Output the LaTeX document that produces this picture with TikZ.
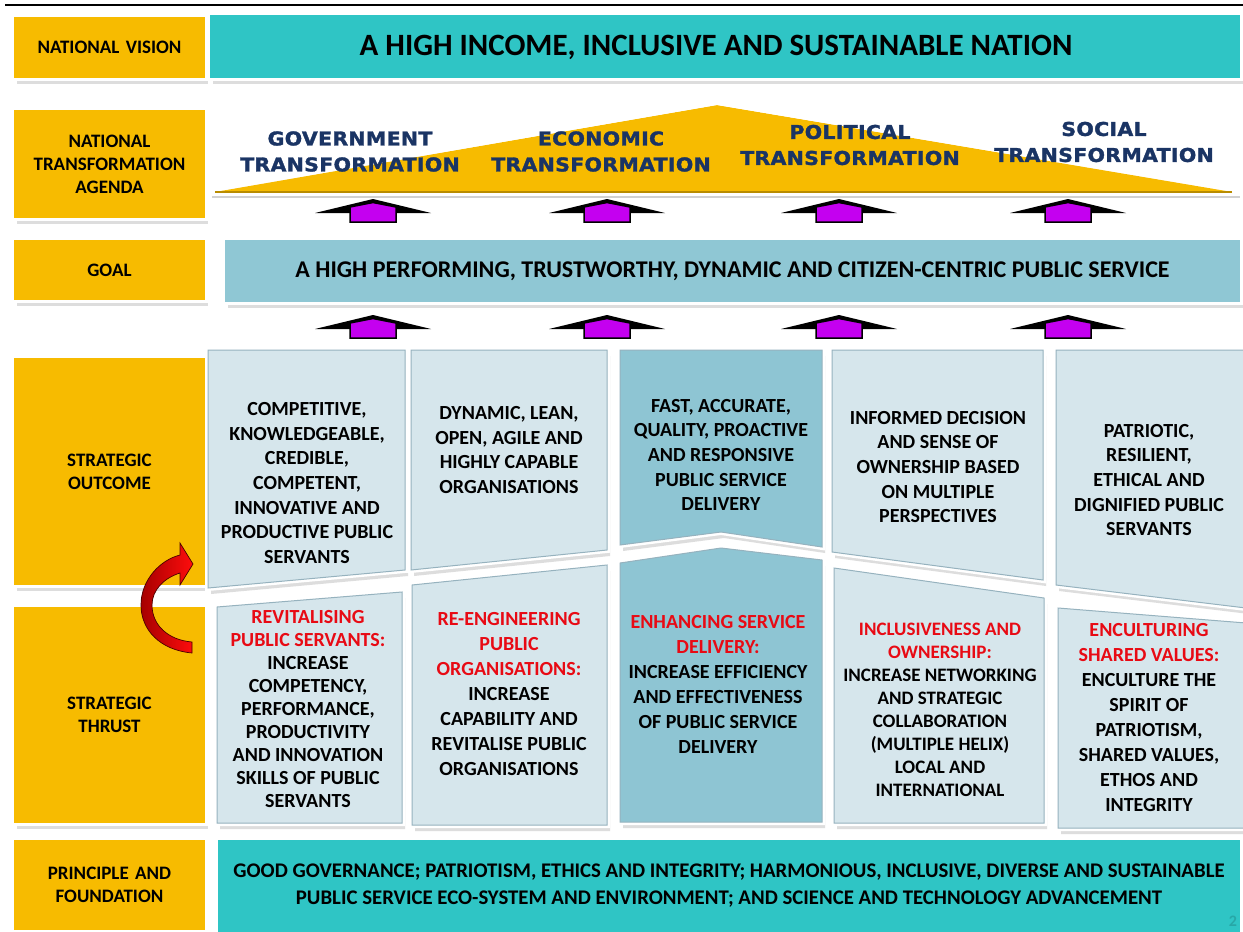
\documentclass[tikz,border=0pt]{standalone}
\usepackage{fontspec}
\setmainfont{Carlito}
\newfontfamily\wideFont[FakeBold=1.6,FakeStretch=1.08,LetterSpace=1.5]{DejaVu Sans Bold}
\usetikzlibrary{shadows}
\definecolor{ylw}{RGB}{247,187,0}
\definecolor{tealA}{RGB}{47,197,197}
\definecolor{goalblue}{RGB}{143,199,212}
\definecolor{panel}{RGB}{214,230,236}
\definecolor{panelD}{RGB}{142,197,211}
\definecolor{edgeC}{RGB}{150,178,190}
\definecolor{purp}{RGB}{196,0,240}
\definecolor{redt}{RGB}{232,10,20}
\definecolor{navy}{RGB}{26,52,100}
\newcommand\myBody{\fontsize{20}{24.7}\selectfont\bfseries}
\newcommand\rl[1]{\textcolor{redt}{#1}}
\begin{document}
\begin{tikzpicture}[x=1pt,y=-1pt,
  frame/.style={drop shadow={shadow xshift=3pt,shadow yshift=-6pt,opacity=0.22,fill=black!60},
                preaction={draw=white,line width=6pt}},
  lbl/.style={frame, fill=ylw, minimum width=191pt, text width=185pt, align=center,
              inner sep=0pt, font=\fontsize{19}{23}\selectfont\bfseries},
  banner/.style={frame, inner sep=0pt, align=center},
  pan/.style={frame, fill=panel, draw=edgeC, line width=1pt},
  pantext/.style={align=center, inner sep=0pt, font=\myBody},
  trans/.style={align=center, inner sep=0pt, text=navy,
                font=\wideFont\fontsize{19}{26}\selectfont},
  uparrow/.pic={
    \fill[black] (-58,14) -- (0,0) -- (58,14) -- cycle;
    \filldraw[fill=purp, draw=black, line width=1.5pt]
      (-23,23) -- (-23,8) -- (0,3.5) -- (23,8) -- (23,23) -- cycle;
  }
]
\useasboundingbox (0,0) rectangle (1243,932);
\fill[white] (0,0) rectangle (1243,932);
\draw[black, line width=2.5pt] (5,5) coordinate (tl) -- (1243,5) coordinate (tr);

% ---------- left labels ----------
\node[lbl, minimum height=61pt]  (nv)  at (109.5,47.5) {NATIONAL VISION};
\node[lbl, minimum height=108pt] (nta) at (109.5,164) {NATIONAL\\TRANSFORMATION\\AGENDA};
\node[lbl, minimum height=60pt]  (gl)  at (109.5,270) {GOAL};
\node[lbl, minimum height=227pt] (so)  at (109.5,471.5) {STRATEGIC\\OUTCOME};
\node[lbl, minimum height=216pt] (st)  at (109.5,715) {STRATEGIC\\THRUST};
\node[lbl, minimum height=90pt]  (pf)  at (109.5,885) {PRINCIPLE AND\\FOUNDATION};

% ---------- vision banner ----------
\node[banner, fill=tealA, minimum width=1030pt, minimum height=63pt] (vb) at (725,46.5) {};
\node[inner sep=0pt, font=\fontsize{31}{36}\selectfont\bfseries] (vt) at (716,47)
  {A HIGH INCOME, INCLUSIVE AND SUSTAINABLE NATION};

% ---------- transformation agenda ----------
\draw[black!18, line width=2pt] (212,197) -- (1240,197);
\fill[ylw] (215,192) -- (717,105) -- (1232,192) -- cycle;
\draw[white, line width=2pt] (222,189) -- (717,104) -- (1225,189);
\draw[ylw!75!black, line width=1.2pt] (215,192) -- (1232,192);
\node[trans] (tg) at (350,151.5) {GOVERNMENT\\TRANSFORMATION};
\node[trans] (te) at (601,151.5) {ECONOMIC\\TRANSFORMATION};
\node[trans] (tp) at (850,145)   {POLITICAL\\TRANSFORMATION};
\node[trans] (ts) at (1104,142)  {SOCIAL\\TRANSFORMATION};

% ---------- arrows ----------
\foreach \cx in {373,607,839,1068}{
  \pic at (\cx,199) {uparrow};
  \pic at (\cx,315) {uparrow};
}

% ---------- goal banner ----------
\node[banner, fill=goalblue, minimum width=1015pt, minimum height=62pt,
      font=\fontsize{24}{28}\selectfont\bfseries] (gb) at (732.5,271)
  {A HIGH PERFORMING, TRUSTWORTHY, DYNAMIC AND CITIZEN-CENTRIC PUBLIC SERVICE};

% ---------- outcome panels ----------
\path[pan] (208,350) -- (405,350) -- (405,570) -- (208,588) -- cycle;
\path[pan] (411,350) -- (607,350) -- (607,550) -- (411,570) -- cycle;
\path[pan, fill=panelD] (620,350) -- (822,350) -- (822,547) -- (721,532) -- (620,545) -- cycle;
\path[pan] (832,350) -- (1043,350) -- (1043,580) -- (832,552) -- cycle;
\path[pan] (1056,350) -- (1246,350) -- (1246,608) -- (1056,585) -- cycle;

% ---------- thrust panels ----------
\path[pan] (217,607) -- (402,592) -- (402,823) -- (217,823) -- cycle;
\path[pan] (412,585) -- (607,565) -- (607,825) -- (412,825) -- cycle;
\path[pan, fill=panelD] (620,563) -- (721,548) -- (822,560) -- (822,822) -- (620,822) -- cycle;
\path[pan] (834,568) -- (1044,598) -- (1044,823) -- (834,823) -- cycle;
\path[pan] (1058,608) -- (1246,623) -- (1246,828) -- (1058,828) -- cycle;

% ---------- outcome texts ----------
\node[pantext] (o1) at (307,483) {COMPETITIVE,\\KNOWLEDGEABLE,\\CREDIBLE,\\COMPETENT,\\INNOVATIVE AND\\PRODUCTIVE PUBLIC\\SERVANTS};
\node[pantext] (o2) at (509,450) {DYNAMIC, LEAN,\\OPEN, AGILE AND\\HIGHLY CAPABLE\\ORGANISATIONS};
\node[pantext] (o3) at (721,455) {FAST, ACCURATE,\\QUALITY, PROACTIVE\\AND RESPONSIVE\\PUBLIC SERVICE\\DELIVERY};
\node[pantext] (o4) at (938,467) {INFORMED DECISION\\AND SENSE OF\\OWNERSHIP BASED\\ON MULTIPLE\\PERSPECTIVES};
\node[pantext] (o5) at (1149,480) {PATRIOTIC,\\RESILIENT,\\ETHICAL AND\\DIGNIFIED PUBLIC\\SERVANTS};

% ---------- thrust texts ----------
\node[pantext, font=\fontsize{20}{23}\selectfont\bfseries] (t1) at (308,709)
  {\rl{REVITALISING}\\\rl{PUBLIC SERVANTS:}\\INCREASE\\COMPETENCY,\\PERFORMANCE,\\PRODUCTIVITY\\AND INNOVATION\\SKILLS OF PUBLIC\\SERVANTS};
\node[pantext, font=\fontsize{20}{25}\selectfont\bfseries] (t2) at (509,694)
  {\rl{RE-ENGINEERING}\\\rl{PUBLIC}\\\rl{ORGANISATIONS:}\\INCREASE\\CAPABILITY AND\\REVITALISE PUBLIC\\ORGANISATIONS};
\node[pantext, font=\fontsize{20}{25}\selectfont\bfseries] (t3) at (718,684)
  {\rl{ENHANCING SERVICE}\\\rl{DELIVERY:}\\INCREASE EFFICIENCY\\AND EFFECTIVENESS\\OF PUBLIC SERVICE\\DELIVERY};
\node[pantext, font=\fontsize{19}{23}\selectfont\bfseries] (t4) at (940,710)
  {\rl{INCLUSIVENESS AND}\\\rl{OWNERSHIP:}\\INCREASE NETWORKING\\AND STRATEGIC\\COLLABORATION\\(MULTIPLE HELIX)\\LOCAL AND\\INTERNATIONAL};
\node[pantext, font=\fontsize{20}{25}\selectfont\bfseries] (t5) at (1149,718)
  {\rl{ENCULTURING}\\\rl{SHARED VALUES:}\\ENCULTURE THE\\SPIRIT OF\\PATRIOTISM,\\SHARED VALUES,\\ETHOS AND\\INTEGRITY};

% ---------- foundation banner ----------
\node[banner, fill=tealA, minimum width=1022pt, minimum height=92pt,
      font=\fontsize{20.8}{27}\selectfont\bfseries] (fb) at (729,886)
  {GOOD GOVERNANCE; PATRIOTISM, ETHICS AND INTEGRITY; HARMONIOUS, INCLUSIVE, DIVERSE AND SUSTAINABLE\\
   PUBLIC SERVICE ECO-SYSTEM AND ENVIRONMENT; AND SCIENCE AND TECHNOLOGY ADVANCEMENT};
\node[inner sep=0pt, font=\fontsize{16}{18}\selectfont\bfseries, text=tealA!75!black, opacity=0.6] (pn) at (1233,921) {2};

% ---------- red curved arrow ----------
\path[draw=black!70!red, line width=0.7pt, left color=red!65!black, right color=red!95!white]
  (192,653) .. controls (160,650) and (141,630) .. (141,605)
  .. controls (141,580) and (160,560) .. (180,555)
  -- (180,543) -- (193,564) -- (180,585) -- (180,573)
  .. controls (164,578) and (152,590) .. (152,605)
  .. controls (152,625) and (168,640) .. (192,642) -- cycle;
\end{tikzpicture}
\end{document}
